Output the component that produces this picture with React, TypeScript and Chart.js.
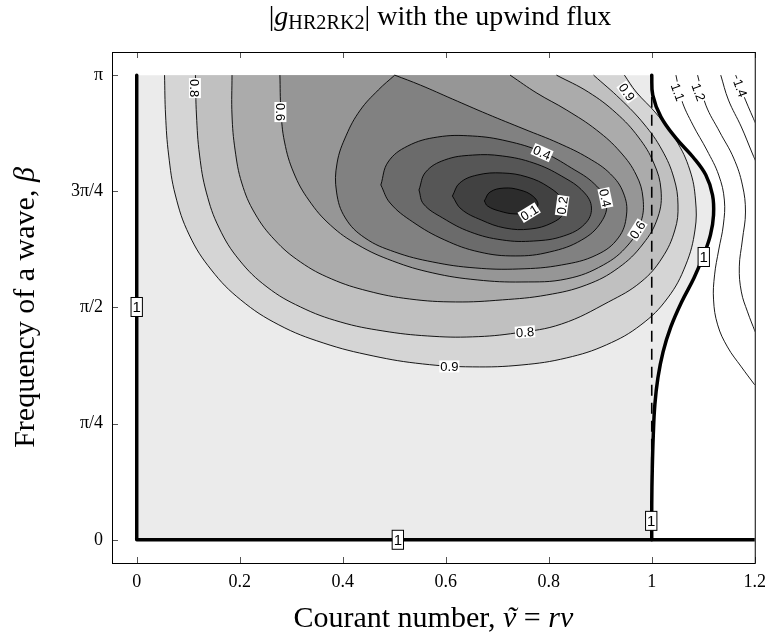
import React, { useEffect, useRef } from "react";
import { Chart, registerables } from "chart.js";

Chart.register(...registerables);

const PI = Math.PI;

// ---- axes ----
const xTickValues = [0, 0.2, 0.4, 0.6, 0.8, 1, 1.2];
const xTickLabels = ["0", "0.2", "0.4", "0.6", "0.8", "1", "1.2"];
const yTickValues = [0, PI / 4, PI / 2, (3 * PI) / 4, PI];
const yTickLabels = ["0", "π/4", "π/2", "3π/4", "π"];

type Pt = [number, number]; // [Courant number nu, frequency beta]

// ---- contour lines ----
const level09: Pt[] = [
  [0.054, PI], [0.056, 2.872], [0.062, 2.601], [0.075, 2.331], [0.102, 2.061], [0.145, 1.824],
  [0.202, 1.622], [0.276, 1.453], [0.362, 1.331], [0.459, 1.243], [0.555, 1.189], [0.652, 1.169],
  [0.748, 1.182], [0.835, 1.23], [0.912, 1.318], [0.979, 1.453], [1.031, 1.635], [1.066, 1.858],
  [1.084, 2.095], [1.085, 2.297], [1.074, 2.5], [1.047, 2.703], [1.008, 2.885], [0.97, 3.027], [0.947, PI],
];
const level08: Pt[] = [
  [0.114, PI], [0.116, 2.872], [0.122, 2.601], [0.135, 2.351], [0.16, 2.108], [0.199, 1.892],
  [0.253, 1.709], [0.318, 1.574], [0.395, 1.473], [0.478, 1.412], [0.565, 1.378], [0.652, 1.372],
  [0.738, 1.399], [0.825, 1.459], [0.916, 1.608], [0.979, 1.743], [1.02, 1.905], [1.045, 2.095],
  [1.051, 2.264], [1.043, 2.446], [1.02, 2.635], [0.985, 2.811], [0.939, 2.98], [0.887, PI],
];
const level07: Pt[] = [
  [0.185, PI], [0.185, 2.872], [0.191, 2.635], [0.204, 2.412], [0.229, 2.209], [0.268, 2.027],
  [0.318, 1.878], [0.378, 1.764], [0.449, 1.682], [0.53, 1.628], [0.619, 1.608], [0.71, 1.622],
  [0.796, 1.655], [0.873, 1.723], [0.935, 1.838], [0.983, 2.0], [1.012, 2.182], [1.018, 2.365],
  [1.004, 2.547], [0.974, 2.723], [0.931, 2.885], [0.877, 3.027], [0.815, PI],
];
const level06: Pt[] = [
  [0.278, PI], [0.28, 2.905], [0.287, 2.689], [0.305, 2.48], [0.334, 2.297], [0.376, 2.128],
  [0.43, 1.993], [0.497, 1.885], [0.575, 1.804], [0.661, 1.757], [0.748, 1.743], [0.835, 1.764],
  [0.906, 1.858], [0.954, 1.993], [0.979, 2.149], [0.983, 2.311], [0.97, 2.466], [0.939, 2.622],
  [0.893, 2.77], [0.835, 2.905], [0.777, 3.02], [0.725, PI],
];
const level05: Pt[] = [
  [0.501, PI], [0.469, 3.041], [0.434, 2.905], [0.407, 2.736], [0.389, 2.547], [0.388, 2.351],
  [0.405, 2.176], [0.443, 2.041], [0.501, 1.946], [0.575, 1.878], [0.657, 1.838], [0.742, 1.831],
  [0.825, 1.858], [0.893, 1.926], [0.935, 2.041], [0.951, 2.196], [0.945, 2.345], [0.92, 2.473],
  [0.877, 2.581], [0.819, 2.682], [0.752, 2.777], [0.681, 2.878], [0.613, 2.98], [0.551, 3.074], [0.501, PI],
];
const level04: Pt[] = [
  [0.474, 2.399], [0.488, 2.554], [0.526, 2.662], [0.584, 2.723], [0.652, 2.73], [0.719, 2.696],
  [0.787, 2.622], [0.844, 2.514], [0.889, 2.405], [0.912, 2.284], [0.902, 2.149], [0.864, 2.027],
  [0.802, 1.946], [0.735, 1.919], [0.665, 1.946], [0.598, 2.027], [0.536, 2.149], [0.492, 2.277], [0.474, 2.399],
];
const level03: Pt[] = [
  [0.548, 2.365], [0.561, 2.486], [0.598, 2.568], [0.652, 2.601], [0.71, 2.595], [0.771, 2.547],
  [0.825, 2.459], [0.868, 2.351], [0.883, 2.243], [0.87, 2.135], [0.829, 2.054], [0.771, 2.02],
  [0.71, 2.027], [0.648, 2.081], [0.594, 2.176], [0.557, 2.27], [0.548, 2.365],
];
const level02: Pt[] = [
  [0.613, 2.324], [0.627, 2.412], [0.661, 2.466], [0.71, 2.48], [0.758, 2.453], [0.8, 2.385],
  [0.827, 2.297], [0.829, 2.209], [0.806, 2.142], [0.764, 2.101], [0.715, 2.108], [0.669, 2.162],
  [0.63, 2.236], [0.613, 2.324],
];
const level01: Pt[] = [
  [0.675, 2.291], [0.686, 2.351], [0.713, 2.378], [0.744, 2.365], [0.769, 2.324], [0.779, 2.264],
  [0.765, 2.216], [0.735, 2.203], [0.704, 2.223], [0.681, 2.257], [0.675, 2.291],
];
// |g| = 1 : the edges nu = 0 and beta = 0, plus this curve
const unityEdge: Pt[] = [[0, PI], [0, 0], [1.2, 0]];
const unityBox: Pt[] = [[0, 0], [0, PI], [1, PI], [1, 0]];
const unityCurve: Pt[] = [
  [1.0, PI], [1.002, 3.007], [1.018, 2.858], [1.047, 2.716], [1.08, 2.588], [1.105, 2.466],
  [1.118, 2.331], [1.12, 2.196], [1.114, 2.061], [1.101, 1.926], [1.082, 1.77], [1.058, 1.608],
  [1.037, 1.439], [1.022, 1.27], [1.012, 1.095], [1.006, 0.912], [1.003, 0.709], [1.001, 0.473],
  [1.0, 0.236], [1.0, 0],
];
const level11: Pt[] = [
  [1.047, PI], [1.058, 2.973], [1.08, 2.804], [1.107, 2.635], [1.13, 2.466], [1.141, 2.297],
  [1.139, 2.128], [1.13, 1.959], [1.122, 1.791], [1.12, 1.622], [1.128, 1.453], [1.147, 1.304],
  [1.174, 1.169], [1.2, 1.047],
];
const level12: Pt[] = [
  [1.089, PI], [1.105, 2.939], [1.132, 2.757], [1.159, 2.581], [1.176, 2.399], [1.182, 2.216],
  [1.176, 2.027], [1.17, 1.845], [1.174, 1.676], [1.186, 1.541], [1.201, 1.405],
];
const level13: Pt[] = [[1.134, PI], [1.149, 2.973], [1.174, 2.791], [1.195, 2.615], [1.205, 2.534]];
const level14: Pt[] = [[1.163, PI], [1.182, 2.973], [1.203, 2.804]];
const courantOne: Pt[] = [[1, 0], [1, PI]];

const filledLevels = [level09, level08, level07, level06, level05, level04, level03, level02, level01];
const bandGreys = ["#d5d5d5", "#c0c0c0", "#ababab", "#969696", "#818181", "#6b6b6b", "#565656", "#414141", "#2c2c2c"];
const unityGrey = "#ebebeb";
const upperLevels = [level11, level12, level13, level14];

// ---- contour labels ----
const labelTexts = ["0.9", "0.8", "0.8", "0.6", "0.4", "0.1", "0.2", "0.4", "0.6", "0.9", "1.1", "1.2", "1.4", "1", "1", "1", "1"];
const labelNu = [0.607, 0.113, 0.754, 0.279, 0.787, 0.762, 0.826, 0.91, 0.972, 0.952, 1.051, 1.091, 1.172, 0, 0.507, 0.999, 1.101];
const labelBeta = [1.172, 3.054, 1.405, 2.892, 2.618, 2.212, 2.26, 2.311, 2.095, 3.027, 3.027, 3.027, 3.054, 1.574, 0, 0.128, 1.912];
const labelAngle = [0, 90, -4, 90, 24, -32, -82, 78, -58, 55, 70, 70, 70, 0, 0, 0, 0];

const toXY = (pts: Pt[]) => pts.map(([x, y]) => ({ x, y }));

type Piece = { t: string; it?: boolean; s?: number; dy?: number; tilde?: boolean };
function drawRich(ctx: CanvasRenderingContext2D, pieces: Piece[], size: number, cx: number, cy: number, rot = 0) {
  const font = (p: Piece) => `${p.it ? "italic " : ""}${(size * (p.s || 1)).toFixed(1)}px "Liberation Serif"`;
  ctx.save();
  ctx.translate(cx, cy);
  if (rot) ctx.rotate(rot);
  ctx.textBaseline = "alphabetic";
  ctx.fillStyle = "#000";
  let total = 0;
  const ws = pieces.map((p) => {
    ctx.font = font(p);
    const w = ctx.measureText(p.t).width;
    total += w;
    return w;
  });
  let x = -total / 2;
  pieces.forEach((p, i) => {
    ctx.font = font(p);
    ctx.textAlign = "left";
    const y = (p.dy || 0) * size;
    ctx.fillText(p.t, x, y);
    if (p.tilde) {
      ctx.textAlign = "center";
      ctx.fillText("˜", x + ws[i] / 2 + size * 0.06, y);
    }
    x += ws[i];
  });
  ctx.restore();
}

const overlay = {
  id: "overlay",
  afterDatasetsDraw(chart: any) {
    const ctx: CanvasRenderingContext2D = chart.ctx;
    const xs = chart.scales.x;
    const ys = chart.scales.y;
    for (let i = 0; i < labelTexts.length; i++) {
      const t = labelTexts[i];
      const boxed = t === "1";
      const px = xs.getPixelForValue(labelNu[i]);
      const py = ys.getPixelForValue(labelBeta[i]);
      ctx.save();
      ctx.translate(px, py);
      ctx.rotate((labelAngle[i] * PI) / 180);
      ctx.font = boxed ? '15px "Liberation Sans"' : '13px "Liberation Sans"';
      const w = ctx.measureText(t).width;
      const h = boxed ? 19 : 12;
      const bw = w + (boxed ? 3 : 2);
      ctx.fillStyle = "#fff";
      ctx.fillRect(-bw / 2, -h / 2, bw, h);
      if (boxed) {
        ctx.strokeStyle = "#000";
        ctx.lineWidth = 1;
        ctx.strokeRect(-bw / 2, -h / 2, bw, h);
      }
      ctx.fillStyle = "#000";
      ctx.textAlign = "center";
      ctx.textBaseline = "middle";
      ctx.fillText(t, 0, 1);
      ctx.restore();
    }
  },
  afterDraw(chart: any) {
    const ctx: CanvasRenderingContext2D = chart.ctx;
    const { left, right, top, bottom } = chart.chartArea;
    const xs = chart.scales.x;
    const ys = chart.scales.y;
    ctx.save();
    ctx.strokeStyle = "#555";
    ctx.lineWidth = 1;
    ctx.beginPath();
    xTickValues.forEach((v) => {
      const x = Math.round(xs.getPixelForValue(v)) + 0.5;
      ctx.moveTo(x, bottom);
      ctx.lineTo(x, bottom - 6);
      ctx.moveTo(x, top);
      ctx.lineTo(x, top + 6);
    });
    yTickValues.forEach((v) => {
      const y = Math.round(ys.getPixelForValue(v)) + 0.5;
      ctx.moveTo(left, y);
      ctx.lineTo(left + 6, y);
    });
    ctx.stroke();
    ctx.strokeStyle = "#000";
    ctx.strokeRect(left + 0.5, top + 0.5, right - left, bottom - top);
    ctx.restore();

    drawRich(ctx, [
      { t: "|" }, { t: "g", it: true }, { t: "HR2RK2", s: 0.72, dy: 0.16 }, { t: "|" },
      { t: " with the upwind flux" },
    ], 28, 440, 25);
    drawRich(ctx, [
      { t: "Courant number, " }, { t: "ν", it: true, tilde: true }, { t: " = " },
      { t: "r", it: true }, { t: "ν", it: true },
    ], 30, (left + right) / 2, 627);
    drawRich(ctx, [{ t: "Frequency of a wave, " }, { t: "β", it: true }], 30, 34, (top + bottom) / 2, -PI / 2);
  },
};

export default function App() {
  const ref = useRef<HTMLCanvasElement>(null);
  useEffect(() => {
    const datasets: any[] = [];
    let order = 1000;
    const add = (ds: any) =>
      datasets.push({ showLine: true, pointRadius: 0, pointHoverRadius: 0, fill: false, order: order--, ...ds });

    add({ data: toXY(unityBox), fill: "shape", backgroundColor: unityGrey, borderWidth: 0, tension: 0 });
    add({ data: toXY(unityCurve), fill: "shape", backgroundColor: unityGrey, borderWidth: 0, tension: 0.4 });
    filledLevels.forEach((c, i) =>
      add({ data: toXY(c), fill: "shape", backgroundColor: bandGreys[i], borderColor: "#000", borderWidth: 0.9, tension: 0.4 })
    );
    add({ data: toXY(courantOne), borderColor: "#000", borderWidth: 1.6, borderDash: [11, 7], tension: 0 });
    upperLevels.forEach((c) => add({ data: toXY(c), borderColor: "#000", borderWidth: 0.9, tension: 0.4 }));
    add({ data: toXY(unityEdge), borderColor: "#000", borderWidth: 3.5, tension: 0, borderJoinStyle: "round", borderCapStyle: "round" });
    add({ data: toXY(unityCurve), borderColor: "#000", borderWidth: 3.5, tension: 0.4, borderCapStyle: "round" });

    const tickFont = { family: "'Liberation Serif'", size: 18 };
    const chart = new Chart(ref.current as HTMLCanvasElement, {
      type: "scatter",
      data: { datasets },
      options: {
        animation: false,
        responsive: false,
        devicePixelRatio: 1,
        events: [],
        layout: { padding: { left: 0, right: 15, top: 52, bottom: 0 } },
        plugins: { legend: { display: false }, tooltip: { enabled: false }, title: { display: false } },
        scales: {
          x: {
            type: "linear",
            min: -0.048,
            max: 1.2,
            afterBuildTicks: (axis: any) => {
              axis.ticks = xTickValues.map((v) => ({ value: v }));
            },
            afterFit: (axis: any) => {
              axis.height = 76;
            },
            ticks: {
              callback: (_v: any, i: number) => xTickLabels[i],
              font: tickFont,
              color: "#000",
              padding: 8,
              maxRotation: 0,
              autoSkip: false,
            },
            grid: { display: false, drawTicks: false },
            border: { display: false },
          },
          y: {
            type: "linear",
            min: -0.157,
            max: 3.298,
            afterBuildTicks: (axis: any) => {
              axis.ticks = yTickValues.map((v) => ({ value: v }));
            },
            afterFit: (axis: any) => {
              axis.width = 112;
            },
            ticks: {
              callback: (_v: any, i: number) => yTickLabels[i],
              font: tickFont,
              color: "#000",
              padding: 9,
              autoSkip: false,
            },
            grid: { display: false, drawTicks: false },
            border: { display: false },
          },
        },
      },
      plugins: [overlay],
    } as any);
    return () => chart.destroy();
  }, []);
  return (
    <div style={{ position: "fixed", left: 0, top: 0, width: 774, height: 639, background: "#fff" }}>
      <canvas ref={ref} width={774} height={639} style={{ display: "block" }} />
    </div>
  );
}
